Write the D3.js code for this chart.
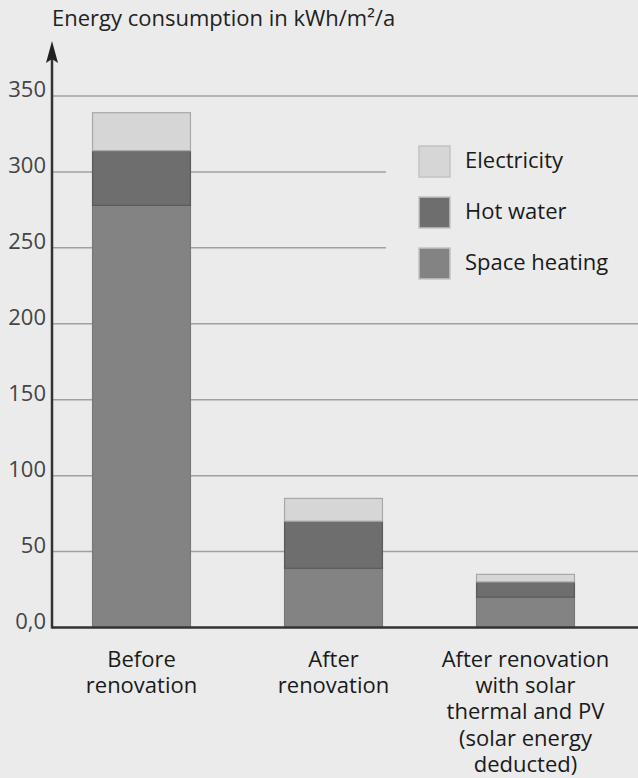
<!DOCTYPE html>
<html>
<head>
<meta charset="utf-8">
<script src="https://cdn.jsdelivr.net/npm/d3@7"></script>
<style>
  html, body { margin: 0; padding: 0; background: #ebebeb; }
  svg { display: block; }
  text { font-family: "Open Sans", sans-serif; }
</style>
</head>
<body>
<script>
(function() {
    'use strict';

    var categories = [
        ["Before", "renovation"],
        ["After", "renovation"],
        ["After renovation", "with solar", "thermal and PV", "(solar energy", "deducted)"]
    ];
    var seriesNames = ["Space heating", "Hot water", "Electricity"];
    var spaceHeating = [278, 39, 20];
    var hotWater = [36, 31, 10];
    var electricity = [25, 15, 5];
    var yTicks = [0, 50, 100, 150, 200, 250, 300, 350];

    var colors = {"Space heating": "#838383", "Hot water": "#6e6e6e", "Electricity": "#d6d6d6"};
    var strokes = {"Space heating": "#777", "Hot water": "#5a5a5a", "Electricity": "#a8a8a8"};

    var w = 638, h = 778;
    var x0 = 52, yBase = 627.5;
    var fs = 22;

    var svg = d3.select("body").append("svg")
                .attr("width", w)
                .attr("height", h);

    var y = d3.scaleLinear().domain([0, 350]).range([yBase, 96]);
    var x = d3.scaleBand()
              .domain(d3.range(categories.length))
              .range([45.5, 621.5])
              .paddingInner(0.49)
              .paddingOuter(0.245);

    // gridlines
    svg.append("g").selectAll("line")
       .data(yTicks.filter(function(d) { return d > 0; }))
       .enter().append("line")
       .attr("x1", x0).attr("x2", w)
       .attr("y1", function(d) { return y(d); })
       .attr("y2", function(d) { return y(d); })
       .attr("stroke", "#a0a0a0")
       .attr("stroke-width", 1.5);

    // stacked data
    var rows = categories.map(function(c, i) {
        return {i: i, "Space heating": spaceHeating[i], "Hot water": hotWater[i], "Electricity": electricity[i]};
    });
    var stack = d3.stack().keys(seriesNames)(rows);

    svg.append("g").selectAll("g")
       .data(stack)
       .enter().append("g")
       .each(function(s) {
           d3.select(this).selectAll("rect")
             .data(s)
             .enter().append("rect")
             .attr("x", function(d) { return x(d.data.i); })
             .attr("width", x.bandwidth())
             .attr("y", function(d) { return y(d[1]); })
             .attr("height", function(d) { return y(d[0]) - y(d[1]); })
             .attr("fill", colors[s.key])
             .attr("stroke", strokes[s.key])
             .attr("stroke-width", 1.2);
       });

    // legend (covers gridlines behind it)
    var legend = svg.append("g");
    legend.append("rect")
          .attr("x", 386).attr("y", 136)
          .attr("width", w - 386).attr("height", 156)
          .attr("fill", "#ebebeb");
    var legendItems = ["Electricity", "Hot water", "Space heating"];
    var lg = legend.selectAll("g")
                   .data(legendItems)
                   .enter().append("g")
                   .attr("transform", function(d, i) { return "translate(419," + (146 + i * 51) + ")"; });
    lg.append("rect")
      .attr("width", 31).attr("height", 31)
      .attr("fill", function(d) { return colors[d]; })
      .attr("stroke", "#c4c4c4")
      .attr("stroke-width", 1.5);
    lg.append("text")
      .attr("x", 46).attr("y", 22)
      .attr("font-size", fs)
      .attr("fill", "#1a1a1a")
      .text(function(d) { return d; });

    // y axis labels
    svg.append("g").selectAll("text")
       .data(yTicks)
       .enter().append("text")
       .attr("x", 46)
       .attr("y", function(d) { return y(d) + 1; })
       .attr("text-anchor", "end")
       .attr("font-size", fs)
       .attr("fill", "#444")
       .text(function(d) { return d === 0 ? "0,0" : d; });

    // axes
    svg.append("line")
       .attr("x1", x0).attr("x2", w)
       .attr("y1", yBase).attr("y2", yBase)
       .attr("stroke", "#333").attr("stroke-width", 2.5);
    svg.append("line")
       .attr("x1", x0).attr("x2", x0)
       .attr("y1", yBase + 1).attr("y2", 56)
       .attr("stroke", "#333").attr("stroke-width", 2.5);
    svg.append("path")
       .attr("d", "M" + x0 + ",41 L" + (x0 - 6) + ",63 L" + x0 + ",59 L" + (x0 + 6) + ",63 Z")
       .attr("fill", "#222");

    // title
    svg.append("text")
       .attr("x", 52).attr("y", 26)
       .attr("font-size", fs)
       .attr("fill", "#222")
       .text("Energy consumption in kWh/m²/a");

    // category labels
    svg.append("g").selectAll("text")
       .data(categories)
       .enter().append("text")
       .attr("text-anchor", "middle")
       .attr("font-size", fs)
       .attr("fill", "#1a1a1a")
       .each(function(lines, i) {
           var cx = x(i) + x.bandwidth() / 2;
           d3.select(this).selectAll("tspan")
             .data(lines)
             .enter().append("tspan")
             .attr("x", cx)
             .attr("y", function(d, j) { return 667 + j * 26.2; })
             .text(function(d) { return d; });
       });
}());
</script>
</body>
</html>
